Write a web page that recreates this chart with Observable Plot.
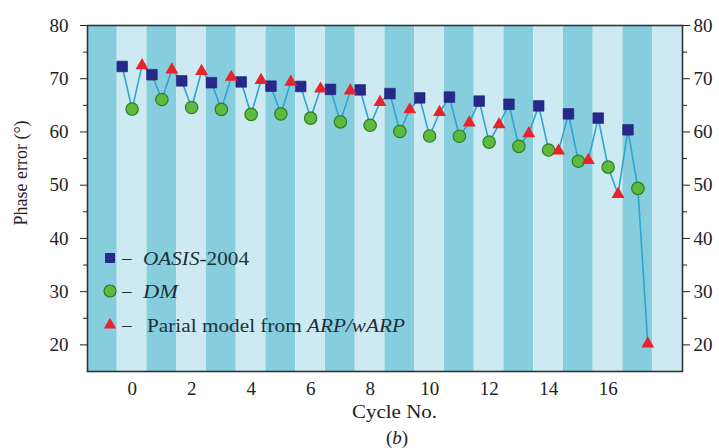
<!DOCTYPE html>
<html><head><meta charset="utf-8">
<script src="https://cdn.jsdelivr.net/npm/d3@7"></script>
<script src="https://cdn.jsdelivr.net/npm/@observablehq/plot@0.6"></script>
<style>body{margin:0;background:#fff;} svg{display:block;}</style>
</head><body><div id="chart"></div>
<script>
const cycles = [0,1,2,3,4,5,6,7,8,9,10,11,12,13,14,15,16,17];
const oasis = [72.3,70.75,69.6,69.25,69.4,68.6,68.55,68.0,67.9,67.2,66.4,66.55,65.8,65.2,64.9,63.4,62.6,60.4];
const dm = [64.3,66.1,64.6,64.25,63.3,63.4,62.6,61.9,61.25,60.1,59.25,59.2,58.1,57.3,56.6,54.5,53.4,49.4];
const arp = [72.5,71.7,71.4,70.3,69.7,69.4,68.1,67.75,65.6,64.2,63.7,61.75,61.4,59.7,56.45,54.7,48.3,20.2];
const yTicks = [20,30,40,50,60,70,80];
const yMinorTicks = [25,35,45,55,65,75];
const xTicks = [0,2,4,6,8,10,12,14,16];
const stripeCols = [-1,0,1,2,3,4,5,6,7,8,9,10,11,12,13,14,15,16,17,18];
const seriesNames = ["OASIS-2004","DM","Parial model from ARP/wARP"];

const DARK = "#86cede", LIGHT = "#cdeaf2";
const NAVY = "#27298a", GREEN = "#5cba3c", GREEN_STROKE = "#2f7d22", RED = "#e8232b", LINE = "#2ea4d0";
const FONT = "Liberation Serif, Times New Roman, serif";

const rows = [];
cycles.forEach((c, i) => {
  rows.push({x: c - 1/3, y: oasis[i], s: seriesNames[0]});
  rows.push({x: c, y: dm[i], s: seriesNames[1]});
  rows.push({x: c + 1/3, y: arp[i], s: seriesNames[2]});
});

const W = 719, H = 448;
const plot = Plot.plot({
  width: W, height: H,
  marginLeft: 87, marginRight: 37, marginTop: 25, marginBottom: 77,
  style: {fontFamily: FONT, fontSize: "19px", color: "#222", background: "#fff"},
  x: {domain: [-1.5, 18.5]},
  y: {domain: [15, 80]},
  marks: [
    Plot.rect(stripeCols, {x1: d => d - 0.5, x2: d => d + 0.5, y1: 15, y2: 80, fill: d => Math.abs(d) % 2 ? DARK : LIGHT}),
    Plot.line(rows, {x: "x", y: "y", stroke: LINE, strokeWidth: 1.6}),
    Plot.dot(rows.filter(d => d.s === seriesNames[0]), {x: "x", y: "y", symbol: "square", r: 6, fill: NAVY, stroke: "#1c1e6e", strokeWidth: 0.6}),
    Plot.dot(rows.filter(d => d.s === seriesNames[1]), {x: "x", y: "y", symbol: "circle", r: 6.2, fill: GREEN, stroke: GREEN_STROKE, strokeWidth: 1.2}),
    Plot.dot(rows.filter(d => d.s === seriesNames[2]), {x: "x", y: "y", symbol: "triangle", r: 4.8, fill: RED}),
    Plot.frame({stroke: "#2d3535", strokeWidth: 1.6}),
    Plot.axisY({anchor: "left", ticks: yTicks, tickSize: 7, tickPadding: 12, label: null}),
    Plot.axisY({anchor: "left", ticks: yMinorTicks, tickSize: 4, tickFormat: () => "", label: null}),
    Plot.axisY({anchor: "right", ticks: yTicks, tickSize: 7, tickPadding: 4, label: null}),
    Plot.axisY({anchor: "right", ticks: yMinorTicks, tickSize: 4, tickFormat: () => "", label: null}),
    Plot.axisX({anchor: "bottom", ticks: xTicks, tickSize: 0, tickPadding: 10, label: null})
  ]
});
document.getElementById("chart").appendChild(plot);

const svg = d3.select(plot);
// Axis titles
svg.append("text").attr("x", 352).attr("y", 418).attr("text-anchor", "start")
  .attr("textLength", 85).attr("lengthAdjust", "spacingAndGlyphs")
  .style("font-family", FONT).style("font-size", "19px").attr("fill", "#222").text("Cycle No.");
const cap = svg.append("text").attr("x", 397).attr("y", 444).attr("text-anchor", "middle")
  .style("font-family", FONT).style("font-size", "19px").attr("fill", "#222");
cap.append("tspan").text("(");
cap.append("tspan").style("font-style", "italic").text("b");
cap.append("tspan").text(")");
svg.append("text").attr("transform", "translate(27,173) rotate(-90)").attr("text-anchor", "middle")
  .style("font-family", FONT).style("font-size", "18px").attr("fill", "#222").text("Phase error (°)");

// Legend
const lg = svg.append("g").style("font-family", FONT).style("font-size", "19px").attr("fill", "#1f2f3a").attr("text-anchor", "start");
const ly = [258, 291, 325];
lg.append("rect").attr("x", 105).attr("y", ly[0] - 5).attr("width", 10).attr("height", 10).attr("fill", NAVY);
lg.append("circle").attr("cx", 110).attr("cy", ly[1]).attr("r", 6).attr("fill", GREEN).attr("stroke", GREEN_STROKE).attr("stroke-width", 1.2);
lg.append("path").attr("transform", `translate(110,${ly[2]})`).attr("d", d3.symbol(d3.symbolTriangle, Math.PI * 4.6 * 4.6)()).attr("fill", RED);
ly.forEach(y => lg.append("text").attr("x", 122).attr("y", y + 6).text("–"));
const t0 = lg.append("text").attr("x", 143).attr("y", ly[0] + 7).attr("textLength", 106).attr("lengthAdjust", "spacingAndGlyphs");
t0.append("tspan").style("font-style", "italic").text("OASIS");
t0.append("tspan").text("-2004");
lg.append("text").attr("x", 143).attr("y", ly[1] + 7).attr("textLength", 35).attr("lengthAdjust", "spacingAndGlyphs").style("font-style", "italic").text("DM");
const t2 = lg.append("text").attr("x", 147).attr("y", ly[2] + 7).attr("textLength", 258).attr("lengthAdjust", "spacingAndGlyphs");
t2.append("tspan").text("Parial model from ");
t2.append("tspan").style("font-style", "italic").text("ARP/wARP");
</script>
</body></html>
